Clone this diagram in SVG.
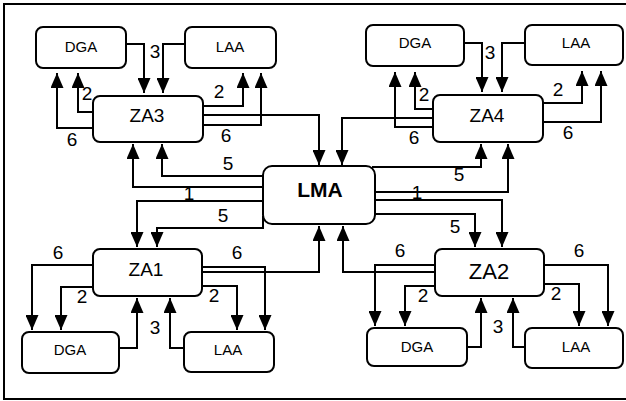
<svg xmlns="http://www.w3.org/2000/svg" width="626" height="401" viewBox="0 0 626 401">
<style>
  .frame{fill:none;stroke:#000;stroke-width:2}
  .box{fill:#fff;stroke:#000;stroke-width:2}
  .t{font-family:"Liberation Sans",Arial,Helvetica,sans-serif;text-anchor:middle;fill:#000}
  .small{font-size:15px}
  .za{font-size:19px}
  .lma{font-size:21px;font-weight:bold}
  .num{font-family:"Liberation Sans",Arial,Helvetica,sans-serif;font-size:19px;text-anchor:middle;fill:#000}
  .edge{fill:none;stroke:#000;stroke-width:2;stroke-linejoin:miter;marker-end:url(#ah)}
</style>
<defs>
  <marker id="ah" markerUnits="userSpaceOnUse" viewBox="0 0 15 13" markerWidth="15" markerHeight="13" refX="15" refY="6.5" orient="auto">
    <path d="M0,0 L15,6.5 L0,13 z" fill="#000"/>
  </marker>
</defs>
<rect x="0" y="0" width="626" height="401" fill="#fff"/>
<rect class="frame" x="4" y="4" width="630" height="395"/>

<g id="connectors">
  <!-- top-left quadrant -->
  <path class="edge" d="M126,44 H144 V93"/>
  <path class="edge" d="M185,44 H163 V93"/>
  <path class="edge" d="M93,112 H78 V73"/>
  <path class="edge" d="M93,128 H57 V73"/>
  <path class="edge" d="M203,106 H243 V73"/>
  <path class="edge" d="M203,125 H261 V73"/>
  <path class="edge" d="M203,115 H319 V165"/>
  <path class="edge" d="M263,176 H162 V144"/>
  <path class="edge" d="M263,187 H133 V144"/>
  <!-- top-right quadrant -->
  <path class="edge" d="M464,43 H482 V92"/>
  <path class="edge" d="M525,43 H502 V92"/>
  <path class="edge" d="M433,109 H415 V72"/>
  <path class="edge" d="M433,127 H395 V72"/>
  <path class="edge" d="M543,103 H582 V71"/>
  <path class="edge" d="M543,122 H601 V71"/>
  <path class="edge" d="M433,118 H342 V165"/>
  <path class="edge" d="M372,167 H481 V144"/>
  <path class="edge" d="M375,192 H508 V144"/>
  <!-- bottom-left quadrant -->
  <path class="edge" d="M93,265 H32 V330"/>
  <path class="edge" d="M93,287 H61 V330"/>
  <path class="edge" d="M119,348 H137 V298"/>
  <path class="edge" d="M184,348 H170 V298"/>
  <path class="edge" d="M202,286 H237 V330"/>
  <path class="edge" d="M202,267 H265 V330"/>
  <path class="edge" d="M202,272 H319 V226"/>
  <path class="edge" d="M263,201 H137 V247"/>
  <path class="edge" d="M263,216 V228 H157 V247"/>
  <!-- bottom-right quadrant -->
  <path class="edge" d="M435,265 H375 V326"/>
  <path class="edge" d="M435,286 H405 V326"/>
  <path class="edge" d="M467,347 H481 V298"/>
  <path class="edge" d="M525,347 H513 V298"/>
  <path class="edge" d="M544,284 H579 V326"/>
  <path class="edge" d="M544,265 H608 V326"/>
  <path class="edge" d="M435,272 H343 V226"/>
  <path class="edge" d="M375,200 H502 V247"/>
  <path class="edge" d="M375,214 H475 V247"/>
</g>

<g id="edge-labels">
  <text class="num" x="155" y="58">3</text>
  <text class="num" x="87" y="100">2</text>
  <text class="num" x="72" y="146">6</text>
  <text class="num" x="219" y="98">2</text>
  <text class="num" x="226" y="142">6</text>
  <text class="num" x="228" y="170">5</text>
  <text class="num" x="189" y="200">1</text>
  <text class="num" x="223" y="222">5</text>

  <text class="num" x="490" y="59">3</text>
  <text class="num" x="424" y="101">2</text>
  <text class="num" x="414" y="144">6</text>
  <text class="num" x="558" y="96">2</text>
  <text class="num" x="568" y="139">6</text>
  <text class="num" x="459" y="181">5</text>
  <text class="num" x="417" y="199">1</text>

  <text class="num" x="58" y="259">6</text>
  <text class="num" x="82" y="303">2</text>
  <text class="num" x="155" y="334">3</text>
  <text class="num" x="214" y="302">2</text>
  <text class="num" x="237" y="259">6</text>

  <text class="num" x="400" y="257">6</text>
  <text class="num" x="423" y="302">2</text>
  <text class="num" x="498" y="333">3</text>
  <text class="num" x="556" y="300">2</text>
  <text class="num" x="579" y="257">6</text>
  <text class="num" x="455" y="233">5</text>
</g>

<g id="lma"><rect class="box" x="263" y="166" width="112" height="58" rx="9"/><text class="t lma" x="320" y="197">LMA</text></g>

<g id="za3"><rect class="box" x="93" y="96" width="110" height="46" rx="7"/><text class="t za" x="147" y="122">ZA3</text></g>
<g id="dga3"><rect class="box" x="36" y="27" width="90" height="41" rx="7"/><text class="t small" x="81" y="52">DGA</text></g>
<g id="laa3"><rect class="box" x="185" y="27" width="91" height="41" rx="7"/><text class="t small" x="230" y="52">LAA</text></g>

<g id="za4"><rect class="box" x="433" y="95" width="110" height="47" rx="7"/><text class="t za" x="487" y="122">ZA4</text></g>
<g id="dga4"><rect class="box" x="366" y="25" width="98" height="41" rx="7"/><text class="t small" x="415" y="48">DGA</text></g>
<g id="laa4"><rect class="box" x="525" y="25" width="98" height="40" rx="7"/><text class="t small" x="576" y="48">LAA</text></g>

<g id="za1"><rect class="box" x="93" y="249" width="109" height="47" rx="7"/><text class="t za" x="146" y="276">ZA1</text></g>
<g id="dga1"><rect class="box" x="22" y="332" width="97" height="41" rx="7"/><text class="t small" x="70" y="355">DGA</text></g>
<g id="laa1"><rect class="box" x="184" y="332" width="90" height="40" rx="7"/><text class="t small" x="228" y="355">LAA</text></g>

<g id="za2"><rect class="box" x="435" y="249" width="109" height="47" rx="7"/><text class="t" style="font-size:22px" x="489" y="279">ZA2</text></g>
<g id="dga2"><rect class="box" x="367" y="328" width="100" height="38" rx="7"/><text class="t small" x="417" y="352">DGA</text></g>
<g id="laa2"><rect class="box" x="525" y="328" width="98" height="40" rx="7"/><text class="t small" x="576" y="352">LAA</text></g>
</svg>
